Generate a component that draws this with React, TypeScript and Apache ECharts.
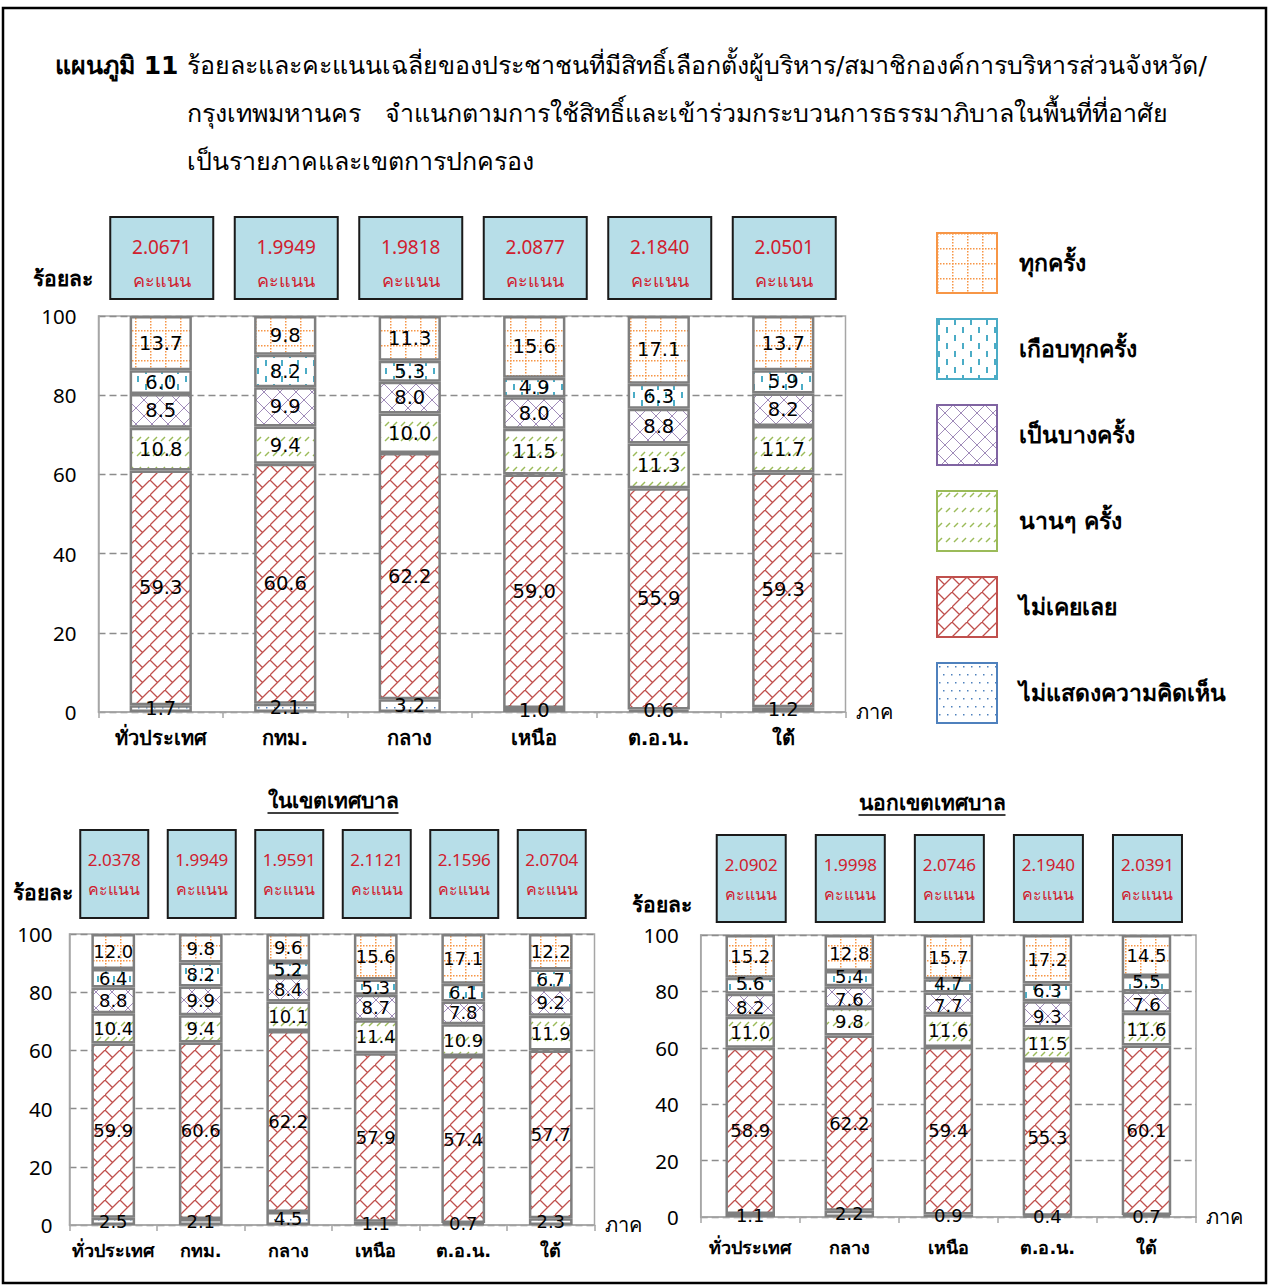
import React, { useEffect, useRef } from "react";
import * as echarts from "echarts";

// ---------- data ----------
const SERIES_NAMES = ["ไม่แสดงความคิดเห็น", "ไม่เคยเลย", "นานๆ ครั้ง", "เป็นบางครั้ง", "เกือบทุกครั้ง", "ทุกครั้ง"];
const LEGEND_ORDER = ["ทุกครั้ง", "เกือบทุกครั้ง", "เป็นบางครั้ง", "นานๆ ครั้ง", "ไม่เคยเลย", "ไม่แสดงความคิดเห็น"];

const catsAll = ["ทั่วประเทศ", "กทม.", "กลาง", "เหนือ", "ต.อ.น.", "ใต้"];
const catsOut = ["ทั่วประเทศ", "กลาง", "เหนือ", "ต.อ.น.", "ใต้"];

// overall
const allNoOpinion = [1.7, 2.1, 3.2, 1.0, 0.6, 1.2];
const allNever = [59.3, 60.6, 62.2, 59.0, 55.9, 59.3];
const allRarely = [10.8, 9.4, 10.0, 11.5, 11.3, 11.7];
const allSometimes = [8.5, 9.9, 8.0, 8.0, 8.8, 8.2];
const allAlmost = [6.0, 8.2, 5.3, 4.9, 6.3, 5.9];
const allEvery = [13.7, 9.8, 11.3, 15.6, 17.1, 13.7];
const allScores = [2.0671, 1.9949, 1.9818, 2.0877, 2.184, 2.0501];

// inside municipal area
const inNoOpinion = [2.5, 2.1, 4.5, 1.1, 0.7, 2.3];
const inNever = [59.9, 60.6, 62.2, 57.9, 57.4, 57.7];
const inRarely = [10.4, 9.4, 10.1, 11.4, 10.9, 11.9];
const inSometimes = [8.8, 9.9, 8.4, 8.7, 7.8, 9.2];
const inAlmost = [6.4, 8.2, 5.2, 5.3, 6.1, 6.7];
const inEvery = [12.0, 9.8, 9.6, 15.6, 17.1, 12.2];
const inScores = [2.0378, 1.9949, 1.9591, 2.1121, 2.1596, 2.0704];

// outside municipal area
const outNoOpinion = [1.1, 2.2, 0.9, 0.4, 0.7];
const outNever = [58.9, 62.2, 59.4, 55.3, 60.1];
const outRarely = [11.0, 9.8, 11.6, 11.5, 11.6];
const outSometimes = [8.2, 7.6, 7.7, 9.3, 7.6];
const outAlmost = [5.6, 5.4, 4.7, 6.3, 5.5];
const outEvery = [15.2, 12.8, 15.7, 17.2, 14.5];
const outScores = [2.0902, 1.9998, 2.0746, 2.194, 2.0391];

const yMin = 0;
const yMax = 100;
const yStep = 20;

const TITLE_LABEL = "แผนภูมิ 11";
const TITLE_LINES = [
  "ร้อยละและคะแนนเฉลี่ยของประชาชนที่มีสิทธิ์เลือกตั้งผู้บริหาร/สมาชิกองค์การบริหารส่วนจังหวัด/",
  "กรุงเทพมหานคร   จำแนกตามการใช้สิทธิ์และเข้าร่วมกระบวนการธรรมาภิบาลในพื้นที่ที่อาศัย",
  "เป็นรายภาคและเขตการปกครอง",
];
const SUB_IN = "ในเขตเทศบาล";
const SUB_OUT = "นอกเขตเทศบาล";
const UNIT = "คะแนน";
const Y_NAME = "ร้อยละ";
const X_NAME = "ภาค";

// ---------- styles ----------
const FONT = "'DejaVu Sans', 'Noto Sans', Tahoma, sans-serif";
const NUMFONT = "'Noto Sans', 'DejaVu Sans', sans-serif";
const PAL = {
  orange: "#F79646",
  cyan: "#4BACC6",
  purple: "#8064A2",
  green: "#9BBB59",
  red: "#C0504D",
  blue: "#4F81BD",
};
const LEGEND_BORDER: Record<string, string> = {
  "ทุกครั้ง": PAL.orange,
  "เกือบทุกครั้ง": PAL.cyan,
  "เป็นบางครั้ง": PAL.purple,
  "นานๆ ครั้ง": PAL.green,
  "ไม่เคยเลย": PAL.red,
  "ไม่แสดงความคิดเห็น": PAL.blue,
};

function tile(w: number, h: number, draw: (c: CanvasRenderingContext2D) => void) {
  const cv = document.createElement("canvas");
  cv.width = w;
  cv.height = h;
  const ctx = cv.getContext("2d")!;
  ctx.fillStyle = "#ffffff";
  ctx.fillRect(0, 0, w, h);
  draw(ctx);
  return { image: cv.toDataURL(), repeat: "repeat", imageWidth: w, imageHeight: h };
}

function makePatterns() {
  const every = tile(15, 15, (c) => {
    c.fillStyle = PAL.orange;
    for (let i = 0; i < 15; i += 3) {
      c.fillRect(i, 0, 1.5, 1.5);
      c.fillRect(0, i, 1.5, 1.5);
    }
  });
  const almost = tile(16, 16, (c) => {
    c.fillStyle = PAL.cyan;
    c.fillRect(1, 0, 2, 6);
    c.fillRect(9, 8, 2, 6);
  });
  const sometimes = tile(16, 16, (c) => {
    c.strokeStyle = PAL.purple;
    c.globalAlpha = 0.75;
    c.lineWidth = 1;
    c.beginPath();
    c.moveTo(0, 0);
    c.lineTo(16, 16);
    c.moveTo(16, 0);
    c.lineTo(0, 16);
    c.stroke();
  });
  const rarely = tile(8, 15, (c) => {
    c.strokeStyle = PAL.green;
    c.lineWidth = 1.4;
    c.beginPath();
    c.moveTo(1, 6);
    c.lineTo(5, 2);
    c.stroke();
  });
  const never = tile(15, 15, (c) => {
    c.strokeStyle = PAL.red;
    c.lineWidth = 1.3;
    c.beginPath();
    c.moveTo(-1, 16);
    c.lineTo(16, -1);
    c.moveTo(0, 0);
    c.lineTo(7.5, 7.5);
    c.stroke();
  });
  const noOpinion = tile(8, 16, (c) => {
    c.fillStyle = PAL.blue;
    c.fillRect(2, 3, 1.5, 1.5);
    c.fillRect(6, 11, 1.5, 1.5);
  });
  return [noOpinion, never, rarely, sometimes, almost, every];
}

type GridDef = {
  left: number;
  top: number;
  width: number;
  height: number;
  cats: string[];
  data: number[][];
  scores: number[];
  labelSize: number;
  labelShift: number[];
  catSize: number;
  catMargin: number;
  yLabelMargin: number;
  yLabelPadTop: number;
  yNameGap: number;
  yNamePadRight: number;
  box: { y: number; w: number; h: number; numY: number; unitY: number; font: number; dx: number };
};

const GRIDS: GridDef[] = [
  {
    left: 98.5, top: 316, width: 747, height: 396,
    cats: catsAll,
    data: [allNoOpinion, allNever, allRarely, allSometimes, allAlmost, allEvery],
    scores: allScores,
    labelSize: 19.5, labelShift: [0, 0, 0, 0, 0, 0],
    catSize: 20, catMargin: 16, yLabelMargin: 22, yLabelPadTop: 0, yNameGap: 37, yNamePadRight: 6,
    box: { y: 217, w: 103, h: 82, numY: 247, unitY: 280, font: 19, dx: 1 },
  },
  {
    left: 69.5, top: 934, width: 525, height: 291,
    cats: catsAll,
    data: [inNoOpinion, inNever, inRarely, inSometimes, inAlmost, inEvery],
    scores: inScores,
    labelSize: 18, labelShift: [0, 0, 0, 0, 0, 0],
    catSize: 18, catMargin: 16, yLabelMargin: 17, yLabelPadTop: 0, yNameGap: 41, yNamePadRight: -3,
    box: { y: 830, w: 68, h: 88, numY: 859, unitY: 889, font: 17, dx: 1 },
  },
  {
    left: 700.7, top: 935, width: 495.3, height: 282,
    cats: catsOut,
    data: [outNoOpinion, outNever, outRarely, outSometimes, outAlmost, outEvery],
    scores: outScores,
    labelSize: 18, labelShift: [0, 0, 0, 2, -2, 0],
    catSize: 18, catMargin: 21, yLabelMargin: 22, yLabelPadTop: 14, yNameGap: 30, yNamePadRight: 9,
    box: { y: 835, w: 69, h: 87, numY: 864, unitY: 894, font: 17, dx: 1 },
  },
];

function measure(text: string, font: string) {
  const cv = document.createElement("canvas");
  const ctx = cv.getContext("2d")!;
  ctx.font = font;
  return ctx.measureText(text).width;
}

function buildOption() {
  const patterns = makePatterns();
  const grid = GRIDS.map((g) => ({
    left: g.left, top: g.top, width: g.width, height: g.height,
    show: true, borderColor: "#A6A6A6", borderWidth: 1.5, backgroundColor: "transparent",
  }));
  const xAxis = GRIDS.map((g, i) => ({
    type: "category",
    gridIndex: i,
    data: g.cats,
    boundaryGap: true,
    name: X_NAME,
    nameLocation: "end",
    nameGap: 10,
    nameTextStyle: { fontFamily: FONT, fontSize: 20, color: "#000", verticalAlign: "middle" },
    axisLine: { show: true, lineStyle: { color: "#A6A6A6", width: 1.5 } },
    axisTick: { show: true, length: 6, lineStyle: { color: "#A6A6A6", width: 1.5 } },
    axisLabel: {
      interval: 0, color: "#000", fontFamily: FONT, fontSize: g.catSize, fontWeight: "bold", margin: g.catMargin,
    },
  }));
  const yAxis = GRIDS.map((g, i) => ({
    type: "value",
    gridIndex: i,
    min: yMin,
    max: yMax,
    interval: yStep,
    name: Y_NAME,
    nameLocation: "end",
    nameGap: g.yNameGap,
    nameTextStyle: {
      fontFamily: FONT, fontSize: 21, fontWeight: "bold", color: "#000",
      align: "right", verticalAlign: "middle", padding: [0, g.yNamePadRight, 0, 0],
    },
    axisLine: { show: true, lineStyle: { color: "#A6A6A6", width: 1.5 } },
    axisTick: { show: false },
    axisLabel: {
      color: "#000", fontFamily: NUMFONT, fontSize: 20.5, margin: g.yLabelMargin,
      padding: [g.yLabelPadTop, 0, 0, 0],
    },
    splitLine: { show: true, lineStyle: { color: "#8C8C8C", width: 1.3, type: [7, 4] } },
  }));
  const series: any[] = [];
  GRIDS.forEach((g, gi) => {
    SERIES_NAMES.forEach((name, si) => {
      series.push({
        type: "bar",
        name,
        xAxisIndex: gi,
        yAxisIndex: gi,
        stack: "s" + gi,
        barWidth: "50%",
        data: g.data[si],
        itemStyle: { color: patterns[si], borderColor: "#7F7F7F", borderWidth: 2.5 },
        label: {
          show: true,
          position: "inside",
          offset: [0, g.labelShift[si]],
          color: "#000",
          textBorderWidth: 0,
          fontFamily: FONT,
          fontSize: g.labelSize,
          formatter: (p: any) => Number(p.value).toFixed(1),
        },
        emphasis: { disabled: true },
      });
    });
  });

  const graphic: any[] = [];
  // outer border
  graphic.push({
    type: "rect", silent: true,
    shape: { x: 3, y: 8, width: 1263, height: 1275 },
    style: { fill: "none", stroke: "#000", lineWidth: 2.5 },
  });
  // title
  const titleFontB = `bold 25px ${FONT}`;
  const titleFont = `25px ${FONT}`;
  graphic.push({
    type: "text", x: 55, y: 65,
    style: { text: TITLE_LABEL, font: titleFontB, fill: "#000", align: "left", verticalAlign: "middle" },
  });
  TITLE_LINES.forEach((t, i) => {
    graphic.push({
      type: "text", x: 187, y: 65 + i * 48,
      style: { text: t, font: titleFont, fill: "#000", align: "left", verticalAlign: "middle" },
    });
  });
  // sub titles with underline
  const subFont = `bold 21px ${FONT}`;
  [
    { t: SUB_IN, cx: 333, y: 801 },
    { t: SUB_OUT, cx: 932, y: 803 },
  ].forEach((s) => {
    const w = measure(s.t, subFont);
    graphic.push({
      type: "text", x: s.cx, y: s.y,
      style: { text: s.t, font: subFont, fill: "#000", align: "center", verticalAlign: "middle" },
    });
    graphic.push({
      type: "line", silent: true,
      shape: { x1: s.cx - w / 2, y1: s.y + 12, x2: s.cx + w / 2, y2: s.y + 12 },
      style: { stroke: "#000", lineWidth: 1.5 },
    });
  });
  // score boxes
  GRIDS.forEach((g) => {
    const cw = g.width / g.cats.length;
    g.scores.forEach((v, i) => {
      const cx = g.left + (i + 0.5) * cw + g.box.dx;
      graphic.push({
        type: "rect", silent: true,
        shape: { x: cx - g.box.w / 2, y: g.box.y, width: g.box.w, height: g.box.h },
        style: { fill: "#B7DEE8", stroke: "#1A1A1A", lineWidth: 2 },
      });
      graphic.push({
        type: "text", x: cx, y: g.box.numY,
        style: { text: v.toFixed(4), font: `${g.box.font}px ${NUMFONT}`, fill: "#D0202E", align: "center", verticalAlign: "middle" },
      });
      graphic.push({
        type: "text", x: cx, y: g.box.unitY,
        style: { text: UNIT, font: `${g.box.font - 1}px ${FONT}`, fill: "#D0202E", align: "center", verticalAlign: "middle" },
      });
    });
  });

  return {
    animation: false,
    backgroundColor: "#fff",
    textStyle: { fontFamily: FONT },
    legend: {
      orient: "vertical",
      left: 931,
      top: 227,
      itemWidth: 60,
      itemHeight: 60,
      itemGap: 24,
      icon: "rect",
      selectedMode: false,
      data: LEGEND_ORDER.map((n) => ({ name: n, itemStyle: { borderColor: LEGEND_BORDER[n], borderWidth: 2 } })),
      textStyle: { fontFamily: FONT, fontSize: 23, fontWeight: "bold", color: "#000", padding: [0, 0, 0, 17] },
    },
    grid,
    xAxis,
    yAxis,
    series,
    graphic,
  };
}

export default function App() {
  const ref = useRef<HTMLDivElement>(null);
  useEffect(() => {
    if (!ref.current) return;
    const chart = echarts.init(ref.current, undefined, { renderer: "svg" });
    chart.setOption(buildOption() as any);
    return () => chart.dispose();
  }, []);
  return (
    <div
      ref={ref}
      style={{ position: "absolute", left: 0, top: 0, width: 1271, height: 1288, background: "#fff" }}
    />
  );
}
